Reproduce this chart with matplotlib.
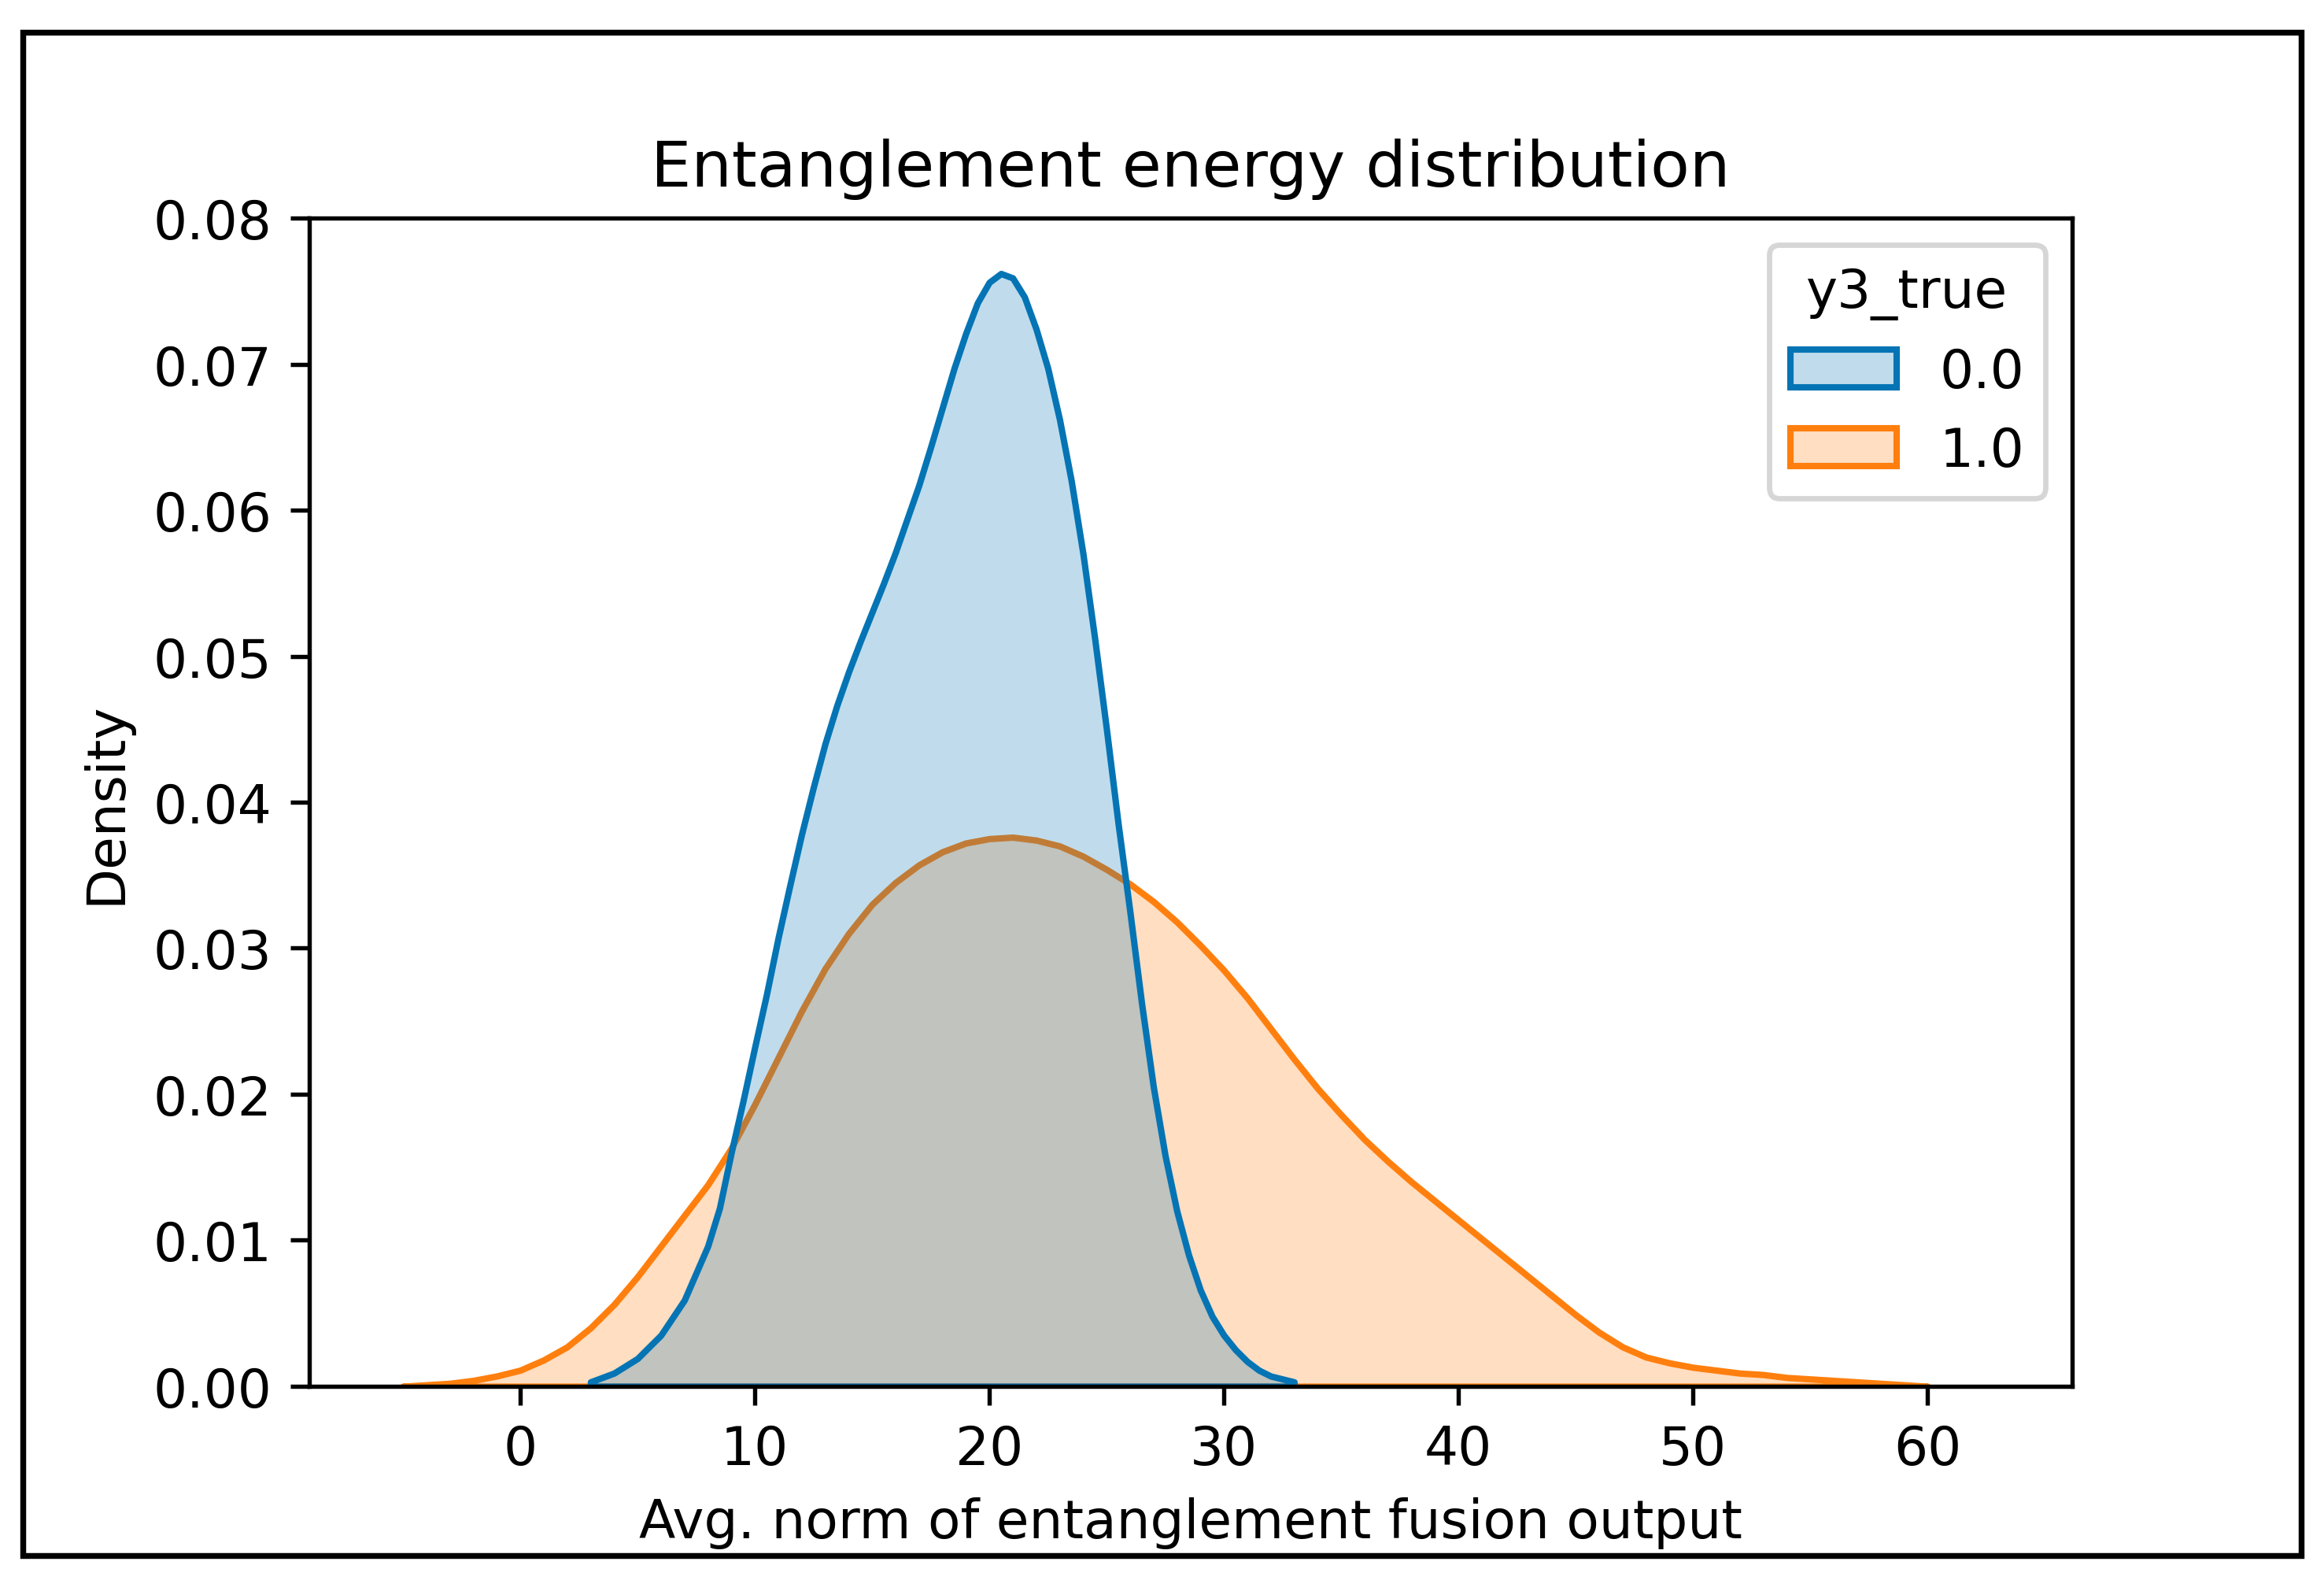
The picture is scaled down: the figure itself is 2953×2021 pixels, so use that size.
import numpy as np
import matplotlib
matplotlib.use("Agg")
import matplotlib.pyplot as plt
from matplotlib.patches import Patch, Rectangle
from matplotlib.colors import to_rgba

# density curves (x = avg. norm, y = density)
x_false = np.array([3.0, 4.0, 5.0, 6.0, 7.0, 8.0, 8.5, 9.0, 9.5, 10.0, 10.5, 11.0, 11.5,
                    12.0, 12.5, 13.0, 13.5, 14.0, 14.5, 15.0, 15.5, 16.0, 16.5, 17.0, 17.5,
                    18.0, 18.5, 19.0, 19.5, 20.0, 20.5, 21.0, 21.5, 22.0, 22.5, 23.0, 23.5,
                    24.0, 24.5, 25.0, 25.5, 26.0, 26.5, 27.0, 27.5, 28.0, 28.5, 29.0, 29.5,
                    30.0, 30.5, 31.0, 31.5, 32.0, 32.5, 33.0])
y_false = np.array([0.0003, 0.0009, 0.0019, 0.0035, 0.0059, 0.0096, 0.0122, 0.0160, 0.0195,
                    0.0232, 0.0268, 0.0307, 0.0343, 0.0378, 0.0410, 0.0440, 0.0466, 0.0489,
                    0.0510, 0.0530, 0.0550, 0.0571, 0.0594, 0.0617, 0.0643, 0.0670, 0.0697,
                    0.0721, 0.0742, 0.0756, 0.0762, 0.0759, 0.0746, 0.0724, 0.0697, 0.0662,
                    0.0620, 0.0570, 0.0512, 0.0450, 0.0385, 0.0325, 0.0262, 0.0205, 0.0158,
                    0.0120, 0.0090, 0.0066, 0.0048, 0.0035, 0.0025, 0.0017, 0.0011, 0.0007,
                    0.0005, 0.0003])

x_true = np.array([-5.0, -4.0, -3.0, -2.0, -1.0, 0.0, 1.0, 2.0, 3.0, 4.0, 5.0, 6.0, 7.0,
                   8.0, 9.0, 10.0, 11.0, 12.0, 13.0, 14.0, 15.0, 16.0, 17.0, 18.0, 19.0,
                   20.0, 21.0, 22.0, 23.0, 24.0, 25.0, 26.0, 27.0, 28.0, 29.0, 30.0, 31.0,
                   32.0, 33.0, 34.0, 35.0, 36.0, 37.0, 38.0, 39.0, 40.0, 41.0, 42.0, 43.0,
                   44.0, 45.0, 46.0, 47.0, 48.0, 49.0, 50.0, 51.0, 52.0, 53.0, 54.0, 55.0,
                   56.0, 57.0, 58.0, 59.0, 60.0])
y_true = np.array([0.0000, 0.0001, 0.0002, 0.0004, 0.0007, 0.0011, 0.0018, 0.0027, 0.0040,
                   0.0056, 0.0075, 0.0096, 0.0117, 0.0138, 0.0163, 0.0193, 0.0225, 0.0257,
                   0.0286, 0.0310, 0.0330, 0.0345, 0.0357, 0.0366, 0.0372, 0.0375, 0.0376,
                   0.0374, 0.0370, 0.0363, 0.0354, 0.0344, 0.0332, 0.0318, 0.0302, 0.0285,
                   0.0266, 0.0245, 0.0224, 0.0204, 0.0186, 0.0169, 0.0154, 0.0140, 0.0127,
                   0.0114, 0.0101, 0.0088, 0.0075, 0.0062, 0.0049, 0.0037, 0.0027, 0.0020,
                   0.0016, 0.0013, 0.0011, 0.0009, 0.0008, 0.0006, 0.0005, 0.0004, 0.0003,
                   0.0002, 0.0001, 0.0000])

labels = ["0.0", "1.0"]
colors = ["#0574b4", "#ff7f0e"]

DPI = 487.5
fig = plt.figure(figsize=(2953 / DPI, 2022 / DPI), dpi=DPI)
ax = fig.add_axes([0.1331, 0.1286, 0.8916 - 0.1331, 0.8625 - 0.1286])

# orange drawn first so the blue fill sits on top
for xs, ys, c in [(x_true, y_true, colors[1]), (x_false, y_false, colors[0])]:
    ax.fill_between(xs, ys, 0, facecolor=to_rgba(c, 0.25), edgecolor=c, linewidth=1.2)

ax.set_xlim(-8.99, 66.17)
ax.set_ylim(0, 0.08)
ax.set_xticks([0, 10, 20, 30, 40, 50, 60])
ax.set_yticks(np.arange(0, 0.081, 0.01))
ax.set_yticklabels([f"{v:.2f}" for v in np.arange(0, 0.081, 0.01)])

ax.set_title("Entanglement energy distribution")
ax.set_xlabel("Avg. norm of entanglement fusion output")
ax.set_ylabel("Density")

handles = [Patch(facecolor=to_rgba(c, 0.25), edgecolor=c, linewidth=1.2) for c in colors]
ax.legend(handles, labels, title="y3_true", loc="upper right")

# black frame round the whole picture
fig.patches.append(Rectangle((29 / 2953, 1 - 1977 / 2022), (2924 - 29) / 2953, (1977 - 42) / 2022,
                             transform=fig.transFigure, fill=False, edgecolor="black",
                             linewidth=1.1))

fig.savefig("out.png", dpi=DPI)
